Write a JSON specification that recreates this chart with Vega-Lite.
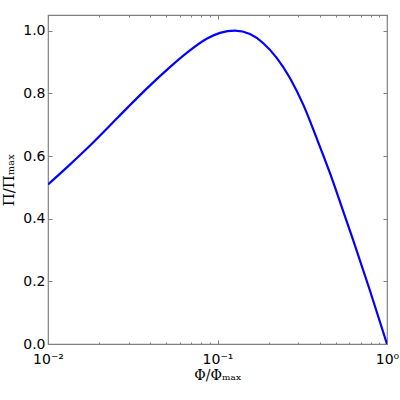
{
  "$schema": "https://vega.github.io/schema/vega-lite/v6.json",
  "width": 339,
  "height": 329,
  "autosize": {"type": "none"},
  "padding": {"left": 48, "top": 15, "right": 13, "bottom": 56},
  "background": "white",
  "config": {
    "view": {"stroke": "#808080", "strokeWidth": 1.2},
    "axis": {
      "domain": false,
      "grid": false,
      "tickColor": "#808080",
      "tickWidth": 1,
      "labelFont": "DejaVu Sans",
      "labelFontSize": 14,
      "labelColor": "black",
      "labelFlush": false,
      "labelOverlap": false,
      "titleFont": "DejaVu Serif",
      "titleFontSize": 15,
      "titleFontWeight": "normal",
      "titleColor": "black"
    }
  },
  "data": {
    "values": [
      {"phi": 0.01, "pi": 0.509},
      {"phi": 0.01312, "pi": 0.567},
      {"phi": 0.01722, "pi": 0.627},
      {"phi": 0.0226, "pi": 0.691},
      {"phi": 0.02965, "pi": 0.756},
      {"phi": 0.0389, "pi": 0.819},
      {"phi": 0.05105, "pi": 0.878},
      {"phi": 0.06699, "pi": 0.932},
      {"phi": 0.0862, "pi": 0.974},
      {"phi": 0.1035, "pi": 0.993},
      {"phi": 0.1268, "pi": 1.0},
      {"phi": 0.1555, "pi": 0.989},
      {"phi": 0.1863, "pi": 0.96},
      {"phi": 0.2235, "pi": 0.913},
      {"phi": 0.268, "pi": 0.848},
      {"phi": 0.321, "pi": 0.763},
      {"phi": 0.385, "pi": 0.656},
      {"phi": 0.461, "pi": 0.545},
      {"phi": 0.548, "pi": 0.428},
      {"phi": 0.633, "pi": 0.33},
      {"phi": 0.794, "pi": 0.17},
      {"phi": 1.0, "pi": 0.0}
    ]
  },
  "resolve": {"axis": {"x": "independent", "y": "independent"}},
  "layer": [
    {
      "mark": {"type": "line", "color": "#0000ff", "strokeWidth": 2.2, "interpolate": "monotone", "clip": true},
      "encoding": {
        "x": {
          "field": "phi", "type": "quantitative",
          "scale": {"type": "log", "domain": [0.01, 1], "nice": false},
          "axis": {
            "orient": "bottom", "values": [0.01, 0.1, 1], "tickSize": -4, "labelPadding": 12,
            "labelExpr": "datum.value < 0.05 ? '10⁻²' : datum.value < 0.5 ? '10⁻¹' : '10⁰'",
            "title": "Φ/Φₘₐₓ", "titlePadding": 2, "titleFontSize": 14
          }
        },
        "y": {
          "field": "pi", "type": "quantitative",
          "scale": {"domain": [0, 1.05], "nice": false, "zero": false},
          "axis": {
            "orient": "left", "values": [0, 0.2, 0.4, 0.6, 0.8, 1.0], "tickSize": -4, "labelPadding": 7,
            "format": ".1f", "title": "Π/Πₘₐₓ", "titlePadding": 6
          }
        }
      }
    },
    {
      "mark": {"type": "line", "strokeOpacity": 0},
      "encoding": {
        "x": {
          "field": "phi", "type": "quantitative",
          "axis": {"orient": "top", "values": [0.01, 0.1, 1], "tickSize": -4, "labels": false, "title": null}
        },
        "y": {
          "field": "pi", "type": "quantitative",
          "axis": {"orient": "right", "values": [0, 0.2, 0.4, 0.6, 0.8, 1.0], "tickSize": -4, "labels": false, "title": null}
        }
      }
    },
    {
      "mark": {"type": "line", "strokeOpacity": 0},
      "encoding": {
        "x": {
          "field": "phi", "type": "quantitative",
          "axis": {"orient": "bottom", "values": [0.02, 0.03, 0.04, 0.05, 0.06, 0.07, 0.08, 0.09, 0.2, 0.3, 0.4, 0.5, 0.6, 0.7, 0.8, 0.9], "tickSize": -2, "labels": false, "title": null}
        },
        "y": {"field": "pi", "type": "quantitative", "axis": null}
      }
    },
    {
      "mark": {"type": "line", "strokeOpacity": 0},
      "encoding": {
        "x": {
          "field": "phi", "type": "quantitative",
          "axis": {"orient": "top", "values": [0.02, 0.03, 0.04, 0.05, 0.06, 0.07, 0.08, 0.09, 0.2, 0.3, 0.4, 0.5, 0.6, 0.7, 0.8, 0.9], "tickSize": -2, "labels": false, "title": null}
        },
        "y": {"field": "pi", "type": "quantitative", "axis": null}
      }
    }
  ]
}
